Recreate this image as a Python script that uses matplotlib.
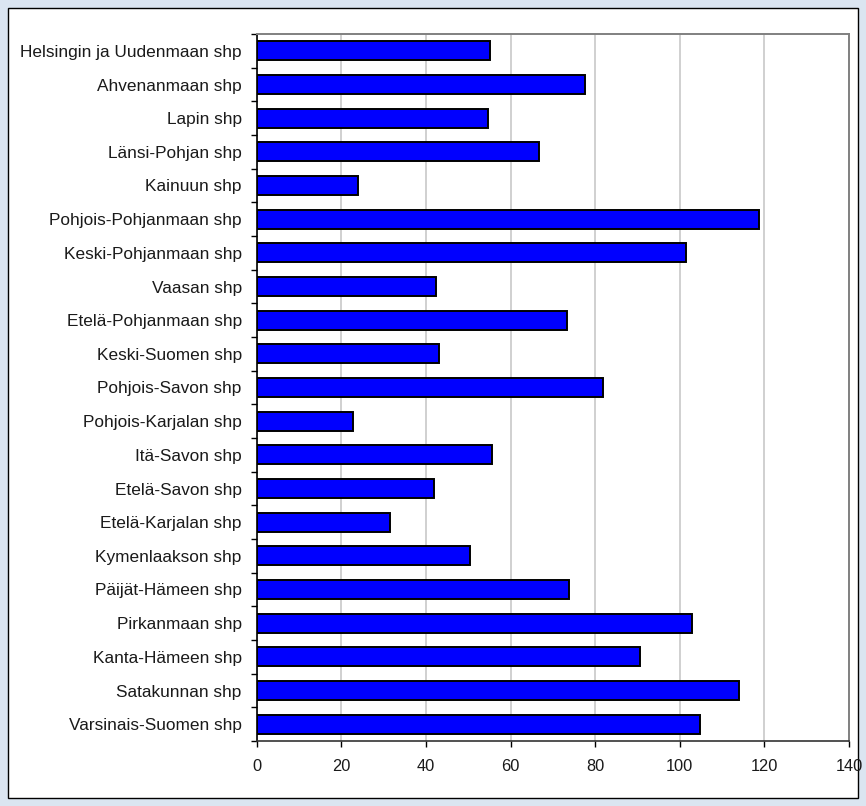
import matplotlib
matplotlib.use("Agg")
import matplotlib.pyplot as plt
from matplotlib.patches import Rectangle

# Hospital districts (shp) and their values
districts = [
    "Helsingin ja Uudenmaan shp",
    "Ahvenanmaan shp",
    "Lapin shp",
    "Länsi-Pohjan shp",
    "Kainuun shp",
    "Pohjois-Pohjanmaan shp",
    "Keski-Pohjanmaan shp",
    "Vaasan shp",
    "Etelä-Pohjanmaan shp",
    "Keski-Suomen shp",
    "Pohjois-Savon shp",
    "Pohjois-Karjalan shp",
    "Itä-Savon shp",
    "Etelä-Savon shp",
    "Etelä-Karjalan shp",
    "Kymenlaakson shp",
    "Päijät-Hämeen shp",
    "Pirkanmaan shp",
    "Kanta-Hämeen shp",
    "Satakunnan shp",
    "Varsinais-Suomen shp",
]
values = [55.2, 77.5, 54.6, 66.6, 23.9, 118.7, 101.5, 42.3, 73.3, 43.0, 81.9,
          22.8, 55.7, 42.0, 31.5, 50.5, 73.7, 102.9, 90.5, 114.0, 104.7]
x_ticks = [0, 20, 40, 60, 80, 100, 120, 140]

plt.rcParams['font.family'] = ['Liberation Sans', 'DejaVu Sans']

W, H = 866, 806
fig = plt.figure(figsize=(W / 100, H / 100), dpi=100)
fig.patch.set_facecolor('#dbe5f1')

# white chart frame behind the axes
frame = Rectangle((8 / W, 1 - 798 / H), 850 / W, 790 / H,
                  transform=fig.transFigure, facecolor='white',
                  edgecolor='black', linewidth=1.0, zorder=-10)
fig.patches.append(frame)

left, right, top, bottom = 256.8, 849, 34, 741
ax = fig.add_axes([left / W, 1 - bottom / H, (right - left) / W, (bottom - top) / H])
ax.set_zorder(5)
ax.set_facecolor('white')

pos = list(range(len(districts)))
ax.barh(pos, values, height=0.56, color='#0000ff', edgecolor='black',
        linewidth=1.4, zorder=3)

ax.set_xlim(0, 140)
ax.set_ylim(len(districts) - 0.5, -0.5)
ax.set_xticks(x_ticks)
ax.set_xticklabels([str(t) for t in x_ticks])

# category labels centered on bars, ticks at category boundaries
ax.set_yticks(pos)
ax.set_yticklabels(districts)
ax.tick_params(axis='y', which='major', length=0, pad=10.8, labelsize=12.4,
               labelcolor='#1a1a1a')
ax.set_yticks([p - 0.5 for p in pos] + [len(pos) - 0.5], minor=True)
ax.tick_params(axis='y', which='minor', length=4.3, width=1.0, color='black',
               direction='out')
ax.tick_params(axis='x', length=4.3, width=1.0, color='black', direction='out',
               pad=9, labelsize=11.8, labelcolor='#1a1a1a')

ax.xaxis.grid(True, color='#c8c8c8', linewidth=1.2, zorder=0)
ax.set_axisbelow(True)

for side in ('top', 'right'):
    ax.spines[side].set_color('#808080')
    ax.spines[side].set_linewidth(1.4)
ax.spines['left'].set_color('black')
ax.spines['left'].set_linewidth(1.2)
ax.spines['bottom'].set_color('#333333')
ax.spines['bottom'].set_linewidth(1.2)

fig.savefig('out.png', dpi=100, facecolor=fig.get_facecolor())
